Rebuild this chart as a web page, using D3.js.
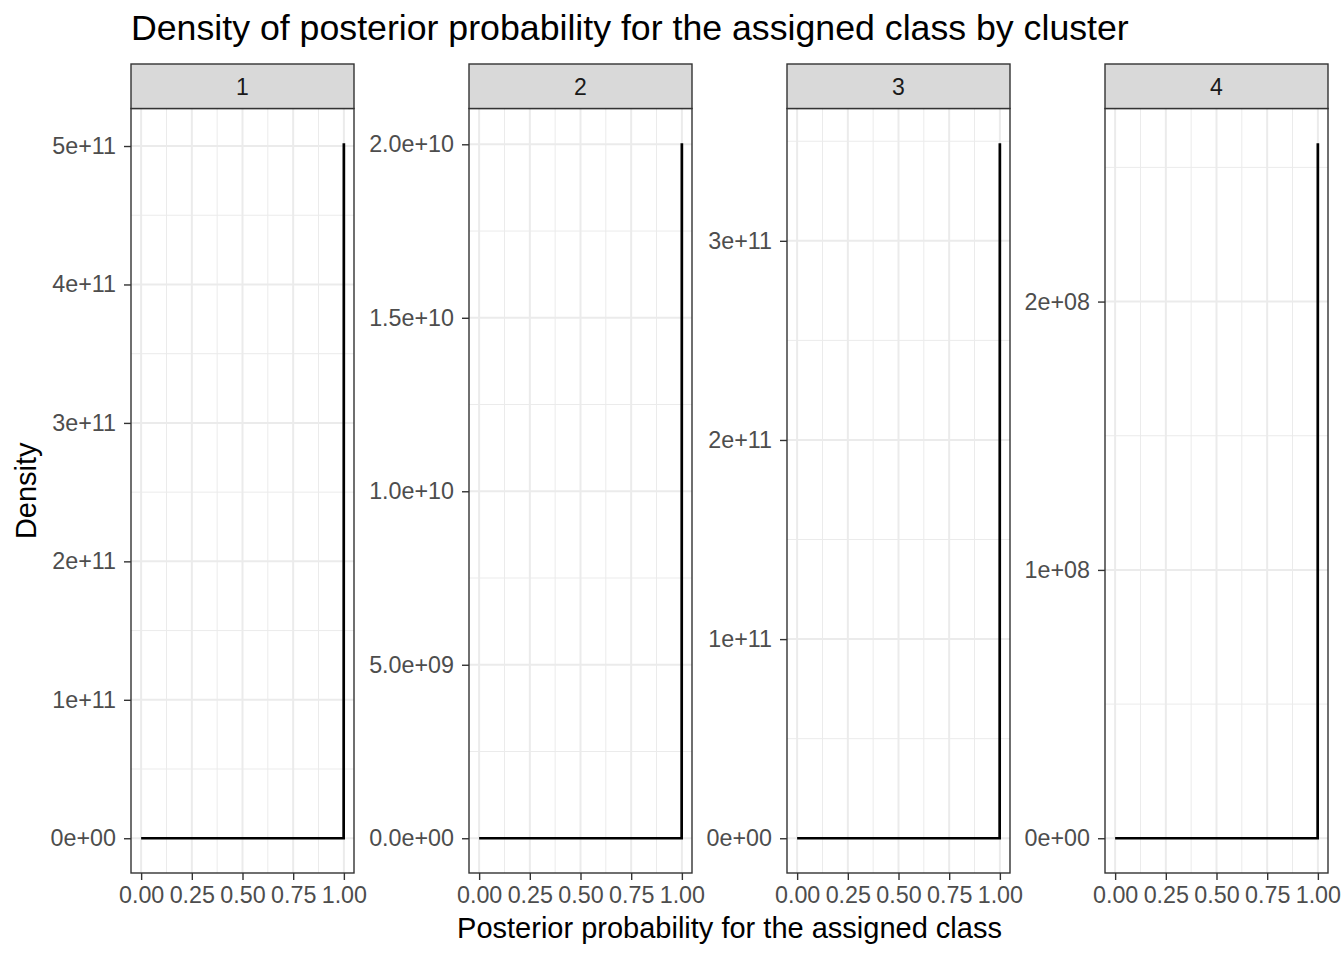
<!DOCTYPE html>
<html>
<head>
<meta charset="utf-8">
<script src="https://cdn.jsdelivr.net/npm/d3@7"></script>
<style>
  body { margin: 0; background: #fff; }
  text { font-family: "Liberation Sans", Arial, Helvetica, sans-serif; }
</style>
</head>
<body>
<svg id="chart" width="1344" height="960"></svg>
<script>
// Facet labels (cluster)
const clusters = ["1", "2", "3", "4"];

// Density curve: x grid shared by every cluster, density per cluster
const curveX = [0, 0.999, 1];
const curveY = [
    [0, 0, 5.02e11],
    [0, 0, 2.003e10],
    [0, 0, 3.49e11],
    [0, 0, 2.59e8]
];

// x axis
const xTicks = [0, 0.25, 0.5, 0.75, 1];
const xTickLabels = ["0.00", "0.25", "0.50", "0.75", "1.00"];

// y axis (free scales per facet)
const yTicks = [
    [0, 1e11, 2e11, 3e11, 4e11, 5e11],
    [0, 5e9, 1e10, 1.5e10, 2e10],
    [0, 1e11, 2e11, 3e11],
    [0, 1e8, 2e8]
];
const yTickLabels = [
    ["0e+00", "1e+11", "2e+11", "3e+11", "4e+11", "5e+11"],
    ["0.0e+00", "5.0e+09", "1.0e+10", "1.5e+10", "2.0e+10"],
    ["0e+00", "1e+11", "2e+11", "3e+11"],
    ["0e+00", "1e+08", "2e+08"]
];

const titleText = "Density of posterior probability for the assigned class by cluster";
const xTitle = "Posterior probability for the assigned class";
const yTitle = "Density";

// layout
const panelLefts = [131, 469, 787, 1105];
const panelW = 223;
const stripTop = 64, stripBottom = 108.5, panelBottom = 873;
const tickLen = 7;

const svg = d3.select("#chart");

// expand a range by 5% each side like ggplot
function expand(lo, hi) {
    const d = (hi - lo) * 0.05;
    return [lo - d, hi + d];
}

// midpoints between breaks, extended one step beyond the ends
function minorBreaks(b, dom) {
    const step = b[1] - b[0];
    const ext = [b[0] - step, ...b, b[b.length - 1] + step];
    const out = [];
    for (let i = 0; i < ext.length - 1; i++) out.push((ext[i] + ext[i + 1]) / 2);
    return out.filter(v => v >= dom[0] && v <= dom[1]);
}

svg.append("text")
    .attr("x", 131)
    .attr("y", 40)
    .attr("font-size", 35.7)
    .attr("fill", "#000")
    .text(titleText);

clusters.forEach((c, i) => {
    const left = panelLefts[i];
    const g = svg.append("g");

    const xDom = expand(0, 1);
    const x = d3.scaleLinear().domain(xDom).range([left, left + panelW]);
    const yMax = d3.max(curveY[i]);
    const yDom = expand(0, yMax);
    const y = d3.scaleLinear().domain(yDom).range([panelBottom, stripBottom]);

    // panel background
    g.append("rect")
        .attr("x", left).attr("y", stripBottom)
        .attr("width", panelW).attr("height", panelBottom - stripBottom)
        .attr("fill", "#fff");

    // minor grid
    g.selectAll(".xminor")
        .data(minorBreaks(xTicks, xDom))
        .enter().append("line")
        .attr("x1", d => x(d)).attr("x2", d => x(d))
        .attr("y1", stripBottom).attr("y2", panelBottom)
        .attr("stroke", "#EBEBEB").attr("stroke-width", 1);
    g.selectAll(".yminor")
        .data(minorBreaks(yTicks[i], yDom))
        .enter().append("line")
        .attr("x1", left).attr("x2", left + panelW)
        .attr("y1", d => y(d)).attr("y2", d => y(d))
        .attr("stroke", "#EBEBEB").attr("stroke-width", 1);

    // major grid
    g.selectAll(".xmajor")
        .data(xTicks)
        .enter().append("line")
        .attr("x1", d => x(d)).attr("x2", d => x(d))
        .attr("y1", stripBottom).attr("y2", panelBottom)
        .attr("stroke", "#EBEBEB").attr("stroke-width", 2);
    g.selectAll(".ymajor")
        .data(yTicks[i])
        .enter().append("line")
        .attr("x1", left).attr("x2", left + panelW)
        .attr("y1", d => y(d)).attr("y2", d => y(d))
        .attr("stroke", "#EBEBEB").attr("stroke-width", 2);

    // density line
    const pts = curveX.map((v, k) => [v, curveY[i][k]]);
    g.append("path")
        .datum(pts)
        .attr("fill", "none")
        .attr("stroke", "#000")
        .attr("stroke-width", 2.7)
        .attr("stroke-linejoin", "miter")
        .attr("d", d3.line().x(d => x(d[0])).y(d => y(d[1])));

    // panel border
    g.append("rect")
        .attr("x", left).attr("y", stripBottom)
        .attr("width", panelW).attr("height", panelBottom - stripBottom)
        .attr("fill", "none").attr("stroke", "#333").attr("stroke-width", 1.4);

    // strip
    g.append("rect")
        .attr("x", left).attr("y", stripTop)
        .attr("width", panelW).attr("height", stripBottom - stripTop)
        .attr("fill", "#D9D9D9").attr("stroke", "#333").attr("stroke-width", 1.4);
    g.append("text")
        .attr("x", left + panelW / 2)
        .attr("y", (stripTop + stripBottom) / 2)
        .attr("dy", "0.36em")
        .attr("text-anchor", "middle")
        .attr("font-size", 23)
        .attr("fill", "#1A1A1A")
        .text(c);

    // y axis
    const yAxis = g.append("g")
        .attr("transform", `translate(${left},0)`)
        .call(d3.axisLeft(y).tickValues(yTicks[i])
            .tickFormat((d, k) => yTickLabels[i][k])
            .tickSize(tickLen).tickPadding(8));
    // x axis
    const xAxis = g.append("g")
        .attr("transform", `translate(0,${panelBottom})`)
        .call(d3.axisBottom(x).tickValues(xTicks)
            .tickFormat((d, k) => xTickLabels[k])
            .tickSize(tickLen).tickPadding(6));

    [yAxis, xAxis].forEach(ax => {
        ax.select(".domain").remove();
        ax.selectAll(".tick line").attr("stroke", "#333").attr("stroke-width", 1.4);
        ax.selectAll(".tick text")
            .attr("font-size", 23.3)
            .attr("fill", "#4D4D4D")
            .attr("font-family", "Liberation Sans, Arial, sans-serif");
    });
});

// axis titles
svg.append("text")
    .attr("x", (panelLefts[0] + panelLefts[3] + panelW) / 2)
    .attr("y", 938)
    .attr("text-anchor", "middle")
    .attr("font-size", 29)
    .attr("fill", "#000")
    .text(xTitle);

svg.append("text")
    .attr("transform", `translate(36,${(stripBottom + panelBottom) / 2}) rotate(-90)`)
    .attr("text-anchor", "middle")
    .attr("font-size", 29)
    .attr("fill", "#000")
    .text(yTitle);
</script>
</body>
</html>
